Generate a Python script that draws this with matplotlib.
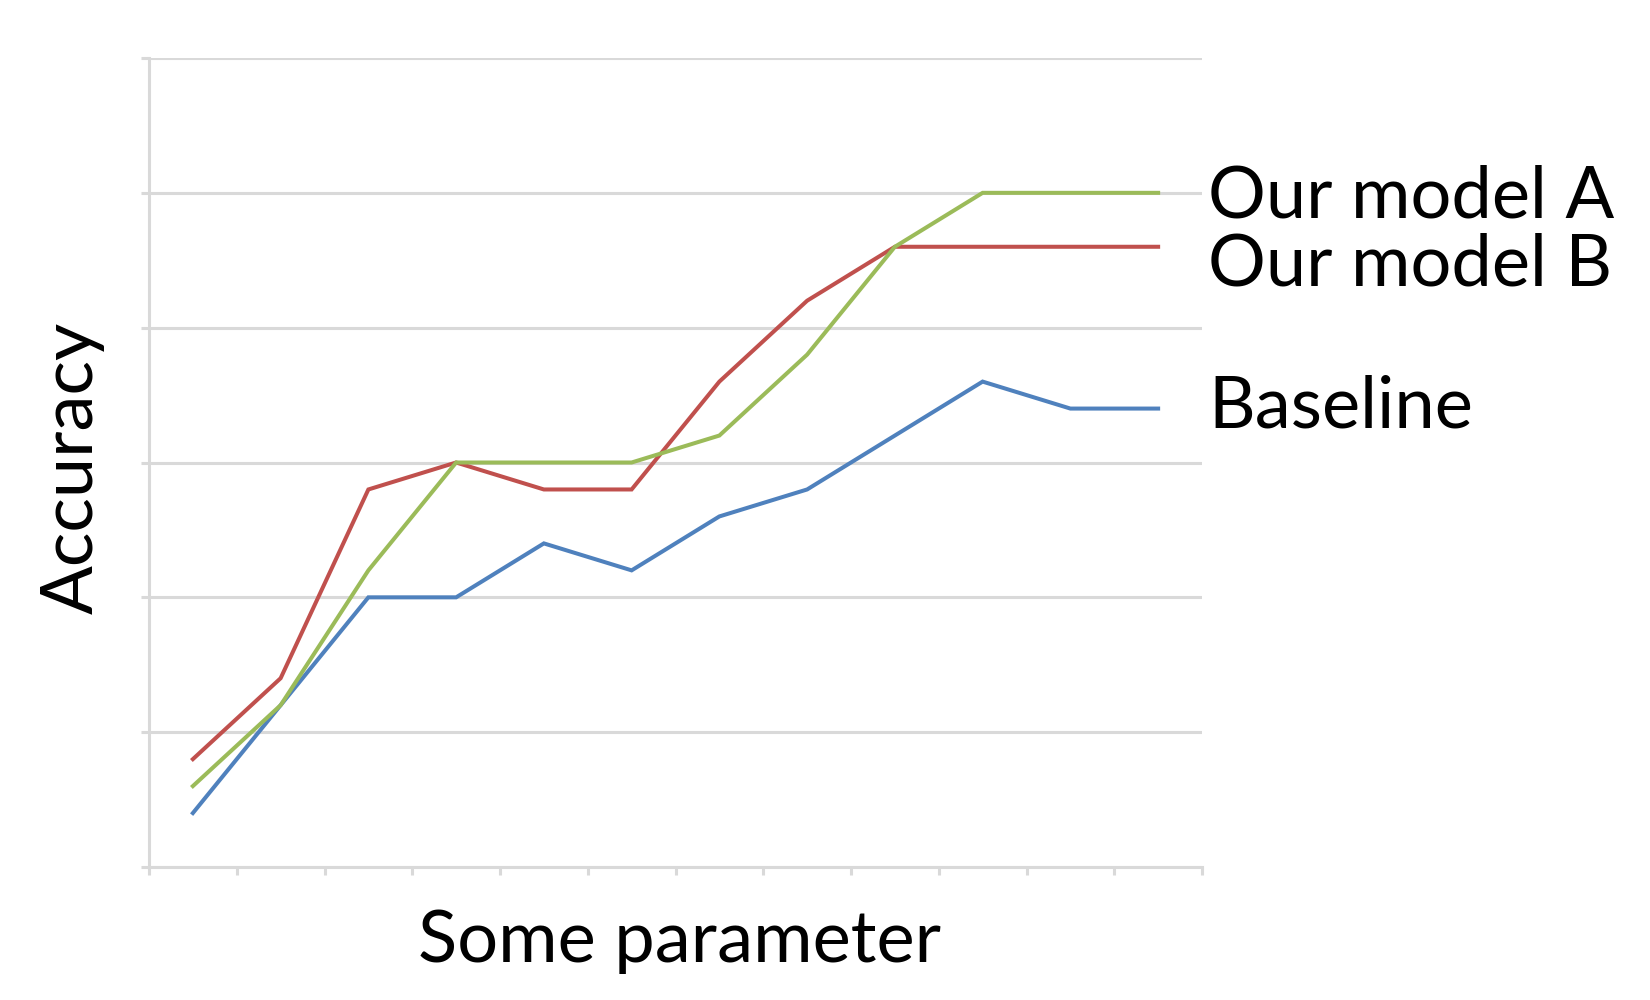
import matplotlib
matplotlib.use("Agg")
import matplotlib.pyplot as plt
import numpy as np

categories = list(range(1, 13))
baseline = [0.4, 1.2, 2.0, 2.0, 2.4, 2.2, 2.6, 2.8, 3.2, 3.6, 3.4, 3.4]
model_b = [0.8, 1.4, 2.8, 3.0, 2.8, 2.8, 3.6, 4.2, 4.6, 4.6, 4.6, 4.6]
model_a = [0.6, 1.2, 2.2, 3.0, 3.0, 3.0, 3.2, 3.8, 4.6, 5.0, 5.0, 5.0]
series_names = ["Baseline", "Our model B", "Our model A"]
colors = ["#4F81BD", "#C0504D", "#9BBB59"]

plt.rcParams['font.family'] = ['Lato', 'DejaVu Sans']

fig = plt.figure(figsize=(16.5, 10), dpi=100)
ax = fig.add_axes([149/1650, 1-867/1000, (1202-149)/1650, (867-58)/1000])

x = np.arange(len(categories))
for vals, c in zip([baseline, model_b, model_a], colors):
    ax.plot(x, vals, color=c, lw=2.9, solid_joinstyle='miter', zorder=3)

ax.set_xlim(-0.5, len(categories) - 0.5)
ax.set_ylim(0, 6)
ax.set_yticks(np.arange(0, 7, 1))
ax.set_xticks(np.arange(-0.5, len(categories), 1))
ax.set_xticklabels([])
ax.set_yticklabels([])
ax.yaxis.grid(True, color="#D9D9D9", lw=2.2)
ax.set_axisbelow(True)
for s in ["top", "right"]:
    ax.spines[s].set_visible(False)
for s in ["left", "bottom"]:
    ax.spines[s].set_color("#D9D9D9")
    ax.spines[s].set_linewidth(2.2)
ax.tick_params(axis="both", color="#D9D9D9", width=2.2, length=6)

# labels
fs = 52
fig.text(1208/1650, 1-197/1000, "Our model A", fontsize=fs, va="center", ha="left")
fig.text(1208/1650, 1-265/1000, "Our model B", fontsize=fs, va="center", ha="left")
fig.text(1208/1650, 1-407/1000, "Baseline", fontsize=fs, va="center", ha="left")
fig.text(72/1650, 1-468/1000, "Accuracy", fontsize=fs, va="center", ha="center", rotation=90)
fig.text(679/1650, 1-942/1000, "Some parameter", fontsize=fs, va="center", ha="center")

fig.savefig("out.png", dpi=100)
